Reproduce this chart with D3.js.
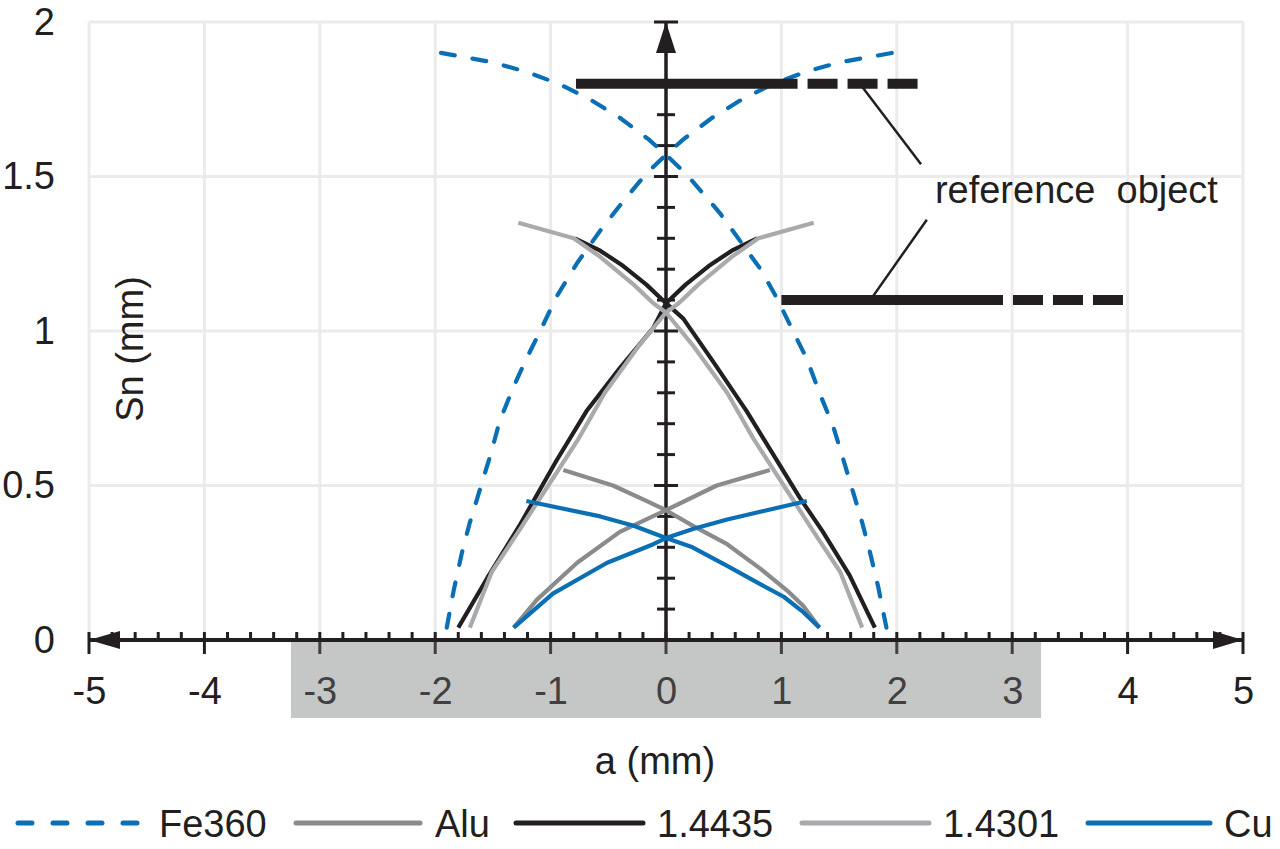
<!DOCTYPE html>
<html><head><meta charset="utf-8">
<script src="https://cdn.jsdelivr.net/npm/d3@7"></script>
<style>
html,body{margin:0;padding:0;background:#fff;}
svg{display:block;font-family:"Liberation Sans",Arial,Helvetica,sans-serif;}
.pre{white-space:pre;}
</style></head><body>
<svg id="chart" width="1280" height="849"></svg>
<script>
// ---------- DATA ----------
const xTickValues = [-5,-4,-3,-2,-1,0,1,2,3,4,5];
const xTickLabels = ["-5","-4","-3","-2","-1","0","1","2","3","4","5"];
const yTickValues = [0,0.5,1,1.5,2];
const yTickLabels = ["0","0.5","1","1.5","2"];

const seriesNames = ["Fe360","Alu","1.4435","1.4301","Cu"];

// Fe360 (two branches)
const fe360Falling = [[-1.95,1.90],[-1.51,1.87],[-1.22,1.84],[-0.93,1.80],[-0.66,1.75],[-0.40,1.69],[-0.15,1.62],[0,1.57],[0.17,1.51],[0.38,1.42],[0.47,1.38],[0.82,1.20],[0.97,1.10],[1.10,1.00],[1.22,0.91],[1.33,0.80],[1.45,0.69],[1.54,0.58],[1.62,0.48],[1.70,0.38],[1.77,0.28],[1.84,0.17],[1.91,0.04]];
const fe360Rising = [[-1.90,0.04],[-1.84,0.16],[-1.77,0.28],[-1.70,0.38],[-1.61,0.49],[-1.52,0.60],[-1.44,0.71],[-1.32,0.82],[-1.21,0.91],[-1.09,1.00],[-0.95,1.11],[-0.77,1.22],[-0.56,1.33],[-0.37,1.42],[-0.17,1.51],[0,1.57],[0.15,1.62],[0.40,1.69],[0.66,1.75],[0.93,1.80],[1.22,1.84],[1.51,1.87],[1.96,1.90]];

// Alu
const aluFalling = [[-0.89,0.55],[-0.46,0.50],[-0.17,0.45],[0,0.42],[0.23,0.37],[0.53,0.31],[0.82,0.23],[1.05,0.16],[1.19,0.11],[1.33,0.04]];
const aluRising = [[-1.32,0.04],[-1.12,0.13],[-0.77,0.25],[-0.40,0.35],[0,0.42],[0.44,0.50],[0.90,0.55]];

// 1.4435
const s14435Falling = [[-0.79,1.30],[-0.57,1.26],[-0.37,1.21],[-0.17,1.15],[0,1.09],[0.15,1.04],[0.41,0.90],[0.70,0.74],[0.93,0.60],[1.16,0.46],[1.36,0.35],[1.59,0.21],[1.81,0.04]];
const s14435Rising = [[-1.80,0.04],[-1.55,0.20],[-1.27,0.37],[-0.95,0.58],[-0.69,0.74],[-0.40,0.88],[-0.11,1.01],[0,1.09],[0.17,1.15],[0.37,1.21],[0.57,1.26],[0.79,1.30]];

// 1.4301
const s14301Falling = [[-1.28,1.35],[-0.80,1.30],[-0.57,1.24],[-0.28,1.15],[-0.11,1.09],[0,1.06],[0.24,0.95],[0.53,0.80],[0.76,0.65],[1.02,0.50],[1.28,0.35],[1.51,0.22],[1.70,0.04]];
const s14301Rising = [[-1.70,0.04],[-1.51,0.22],[-1.28,0.35],[-1.02,0.50],[-0.76,0.65],[-0.53,0.80],[-0.24,0.95],[0,1.06],[0.11,1.09],[0.28,1.15],[0.57,1.24],[0.80,1.30],[1.28,1.35]];

// Cu
const cuFalling = [[-1.21,0.45],[-0.57,0.40],[-0.28,0.37],[0,0.33],[0.23,0.30],[0.53,0.24],[0.82,0.18],[1.02,0.14],[1.19,0.09],[1.33,0.04]];
const cuRising = [[-1.32,0.04],[-0.98,0.15],[-0.51,0.25],[-0.11,0.31],[0,0.33],[0.24,0.36],[0.53,0.39],[1.22,0.45]];

// reference objects (y level, start, end of solid part, end of dashed part)
const refY = [1.8, 1.1];
const refStart = [-0.78, 1.0];
const refSolidEnd = [1.14, 2.92];
const refEnd = [2.18, 3.96];
// leader lines to annotation
const leaderFrom = [[1.68,1.8],[1.77,1.1]];
const leaderTo = [[2.21,1.54],[2.26,1.36]];
const annotationText = "reference  object";
const annotationPos = [2.33, 1.414];

// shaded zone under the x axis
const zoneX = [-3.25, 3.25];

// ---------- STYLES ----------
const ink = "#231f20";
const blue = "#0a6fb5";
const styles = {
  "Fe360":  {color: blue, dash: "14 18"},
  "Alu":    {color: "#8a8b8d", dash: null},
  "1.4435": {color: ink, dash: null},
  "1.4301": {color: "#a8aaad", dash: null},
  "Cu":     {color: blue, dash: null}
};
const seriesData = {
  "Fe360": [fe360Falling, fe360Rising],
  "Alu": [aluFalling, aluRising],
  "1.4435": [s14435Falling, s14435Rising],
  "1.4301": [s14301Falling, s14301Rising],
  "Cu": [cuFalling, cuRising]
};

// ---------- CHART ----------
const svg = d3.select("#chart");
const x = d3.scaleLinear().domain([-5,5]).range([89,1243]);
const y = d3.scaleLinear().domain([0,2]).range([640,22]);
const FS = 38;

// grid
const gGrid = svg.append("g");
gGrid.selectAll("line.v").data(xTickValues).join("line")
  .attr("x1", d=>x(d)).attr("x2", d=>x(d)).attr("y1", y(2)).attr("y2", y(0))
  .attr("stroke","#ebebec").attr("stroke-width",3);
gGrid.selectAll("line.h").data(yTickValues).join("line")
  .attr("x1", x(-5)).attr("x2", x(5)).attr("y1", d=>y(d)).attr("y2", d=>y(d))
  .attr("stroke","#ebebec").attr("stroke-width",3);

// y tick labels
const yAxis = svg.append("g").attr("transform","translate(55,0)")
  .call(d3.axisLeft(y).tickValues(yTickValues).tickFormat((d,i)=>yTickLabels[i]).tickSize(0).tickPadding(0));
yAxis.select(".domain").remove();
yAxis.selectAll("text").attr("font-size",FS).attr("fill",ink).attr("font-family","Liberation Sans, Arial, sans-serif");

// x tick labels
const xAxis = svg.append("g").attr("transform","translate(0,640)")
  .call(d3.axisBottom(x).tickValues(xTickValues).tickFormat((d,i)=>xTickLabels[i]).tickSize(0).tickPadding(37));
xAxis.select(".domain").remove();
xAxis.selectAll("text").attr("font-size",FS).attr("fill",ink).attr("font-family","Liberation Sans, Arial, sans-serif");

// axes lines
const gAx = svg.append("g").attr("stroke",ink);
gAx.append("line").attr("x1",x(-5)).attr("x2",x(5)).attr("y1",y(0)).attr("y2",y(0)).attr("stroke-width",4);
gAx.append("line").attr("x1",x(0)).attr("x2",x(0)).attr("y1",y(0)).attr("y2",y(2)).attr("stroke-width",3.5);

// x minor ticks (every 0.2) and major ticks
const xMinor = d3.range(-50, 51, 2).map(v=>v/10).filter(v=>Math.abs(v-Math.round(v))>1e-6);
gAx.selectAll("line.xm").data(xMinor).join("line")
  .attr("x1",d=>x(d)).attr("x2",d=>x(d)).attr("y1",y(0)).attr("y2",y(0)-8).attr("stroke-width",3);
gAx.selectAll("line.xM").data(xTickValues).join("line")
  .attr("x1",d=>x(d)).attr("x2",d=>x(d)).attr("y1",y(0)-8).attr("y2",y(0)+14).attr("stroke-width",3);

// y minor and major ticks
const yMinor = d3.range(1, 19).map(v=>v/10).filter(v=>Math.abs(v*2-Math.round(v*2))>1e-6);
const yMajor = [0.5,1,1.5,2];
gAx.selectAll("line.ym").data(yMinor).join("line")
  .attr("x1",x(0)-9).attr("x2",x(0)+9).attr("y1",d=>y(d)).attr("y2",d=>y(d)).attr("stroke-width",3);
gAx.selectAll("line.yM").data(yMajor).join("line")
  .attr("x1",x(0)-12).attr("x2",x(0)+12).attr("y1",d=>y(d)).attr("y2",d=>y(d)).attr("stroke-width",3);

// arrowheads
const arrows = svg.append("g").attr("fill",ink);
arrows.append("path").attr("d",`M${x(-5)},${y(0)} L${x(-5)+31},${y(0)-9} L${x(-5)+31},${y(0)+9} Z`);
arrows.append("path").attr("d",`M${x(5)},${y(0)} L${x(5)-30},${y(0)-9} L${x(5)-30},${y(0)+9} Z`);
arrows.append("path").attr("d",`M${x(0)},${y(2)} L${x(0)-10},${y(2)+31} L${x(0)+10},${y(2)+31} Z`);

// curves
const line = d3.line().x(d=>x(d[0])).y(d=>y(d[1]));
const gCurves = svg.append("g").attr("fill","none");
seriesNames.forEach(name=>{
  const st = styles[name];
  seriesData[name].forEach(arr=>{
    const p = gCurves.append("path").datum(arr).attr("d",line)
      .attr("stroke",st.color).attr("stroke-width",4.2).attr("stroke-linejoin","round");
    if (st.dash) p.attr("stroke-dasharray",st.dash).attr("stroke-linecap","round");
  });
});

// reference objects
const gRef = svg.append("g").attr("stroke",ink).attr("stroke-width",10);
refY.forEach((ry,i)=>{
  gRef.append("line").attr("x1",x(refStart[i])).attr("x2",x(refSolidEnd[i])).attr("y1",y(ry)).attr("y2",y(ry));
  gRef.append("line").attr("x1",x(refSolidEnd[i])).attr("x2",x(refEnd[i])).attr("y1",y(ry)).attr("y2",y(ry))
    .attr("stroke-dasharray","0 10 30 0");
});
// leaders
const gLead = svg.append("g").attr("stroke",ink).attr("stroke-width",2.5);
leaderFrom.forEach((f,i)=>{
  gLead.append("line").attr("x1",x(f[0])).attr("y1",y(f[1])).attr("x2",x(leaderTo[i][0])).attr("y2",y(leaderTo[i][1]));
});
svg.append("text").attr("class","pre").attr("x",x(annotationPos[0])).attr("y",y(annotationPos[1]))
  .attr("font-size",FS).attr("fill",ink).text(annotationText);

// axis titles
svg.append("text").attr("x",655).attr("y",774).attr("text-anchor","middle")
  .attr("font-size",FS).attr("fill",ink).text("a (mm)");
svg.append("text").attr("transform","translate(143,349) rotate(-90)").attr("text-anchor","middle")
  .attr("font-size",FS).attr("fill",ink).text("Sn (mm)");

// shaded zone (translucent overlay)
svg.append("rect").attr("x",x(zoneX[0])).attr("width",x(zoneX[1])-x(zoneX[0]))
  .attr("y",y(0)+2).attr("height",76).attr("fill","#6e7171").attr("fill-opacity",0.4);

// legend
const legendLayout = [
  {x0:16,x1:139,tx:159},
  {x0:294,x1:422,tx:435},
  {x0:514,x1:645,tx:657},
  {x0:800,x1:931,tx:943},
  {x0:1086,x1:1212,tx:1224}
];
const legY = 823;
const gLeg = svg.append("g");
seriesNames.forEach((name,i)=>{
  const L = legendLayout[i], st = styles[name];
  const l = gLeg.append("line").attr("x1",L.x0+2).attr("x2",L.x1-2).attr("y1",legY).attr("y2",legY)
    .attr("stroke",st.color).attr("stroke-width",5).attr("stroke-linecap","round");
  if (st.dash) l.attr("stroke-dasharray","14 21");
  gLeg.append("text").attr("x",L.tx).attr("y",legY+14).attr("font-size",FS).attr("fill",ink).text(name);
});
</script>
</body></html>
